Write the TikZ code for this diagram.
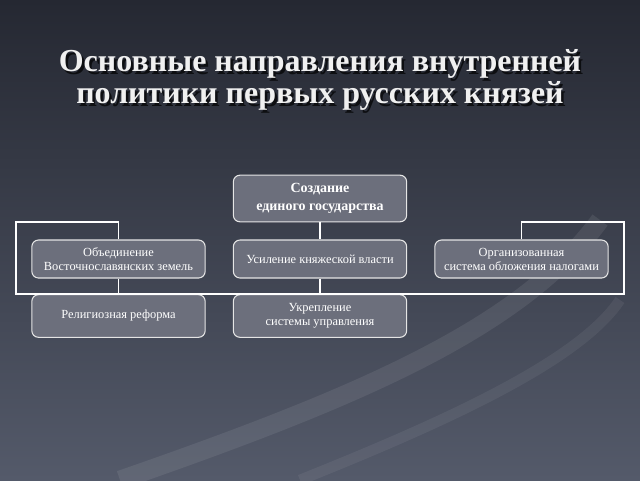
\documentclass[tikz,border=0pt]{standalone}
\usepackage{fontspec}
\setmainfont{Liberation Serif}
\begin{document}
\begin{tikzpicture}[x=0.75pt,y=-0.75pt,
  box/.style={draw=white!80!gray,line width=0.8pt,rounded corners=5pt,text=white,align=center,font=\fontsize{9.3}{10.5}\selectfont,inner sep=0pt,minimum width=130pt},
  conn/.style={draw=white,line width=1pt},
  ttl/.style={font=\fontsize{24}{24}\selectfont\bfseries,text=white!88!gray,align=center}]
\definecolor{bgtop}{HTML}{252832}
\definecolor{bgbot}{HTML}{545A6A}
\definecolor{boxf}{HTML}{6C6F7C}
\useasboundingbox (0,0) rectangle (640,480);
\shade[top color=bgtop,bottom color=bgbot] (0,0) rectangle (640,480);
\draw[white,opacity=0.08,line width=14pt] (120,480) .. controls (350,400) and (520,330) .. (600,220);
\draw[white,opacity=0.06,line width=8pt] (300,480) .. controls (450,420) and (580,360) .. (620,300);
\node[ttl,text=black,opacity=0.7] at (322.5,82.5) {Основные направления внутренней\\политики первых русских князей};
\node[ttl] (title) at (320,80) {Основные направления внутренней\\политики первых русских князей};
\tikzset{box/.append style={fill=boxf}}
\node[box,minimum height=35pt,font=\fontsize{10.5}{13}\selectfont\bfseries] (top) at (320,198.5) {Создание\\единого государства};
\node[box,minimum height=28.5pt] (l2) at (118.5,259) {Объединение\\Восточнославянских земель};
\node[box,minimum height=28.5pt] (m2) at (320,259) {Усиление княжеской власти};
\node[box,minimum height=28.5pt] (r2) at (521.5,259) {Организованная\\система обложения налогами};
\node[box,minimum height=32pt] (l3) at (118.5,316) {Религиозная реформа};
\node[box,minimum height=32pt] (m3) at (320,316) {Укрепление\\системы управления};
\coordinate (cl) at (16,222);
\coordinate (cr) at (624,222);
\draw[conn] (top.south) -- (m2.north);
\draw[conn] (m2.south) -- (m3.north);
\draw[conn] (l2.north) |- (cl) |- (l3.north -| cr) -- (cr) -| (r2.north);
\draw[conn] (l2.south) -- (l3.north);
\end{tikzpicture}
\end{document}
